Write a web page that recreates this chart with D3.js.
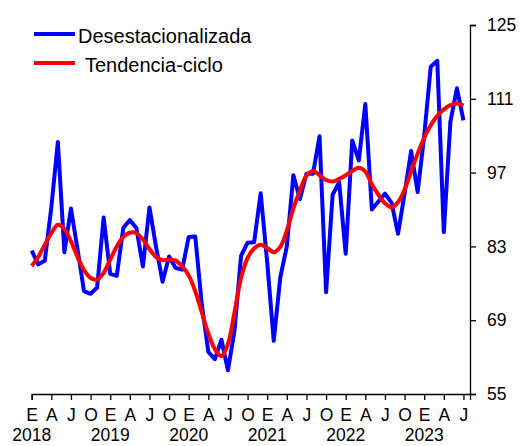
<!DOCTYPE html>
<html>
<head>
<meta charset="utf-8">
<script src="https://cdn.jsdelivr.net/npm/d3@7"></script>
<style>
  body { margin: 0; background: #fff; }
  svg { display: block; font-family: "Liberation Sans", Arial, sans-serif; }
  .axis path, .axis line { stroke: #000; stroke-width: 1.3px; }
  .axis text { fill: #000; font-size: 17.5px; }
</style>
</head>
<body>
<div id="chart"></div>
<script>
// monthly series, Jan 2018 .. Jul 2023
var desestacionalizada = [
    82.2, 79.6, 80.3, 90.4, 102.8, 81.9, 90.2, 82.5, 74.5, 74.0, 75.2, 88.5,
    77.8, 77.4, 86.5, 88.0, 86.5, 79.2, 90.4, 83.0, 76.3, 81.1, 78.9, 78.6,
    84.8, 84.9, 72.0, 63.0, 61.6, 65.3, 59.5, 67.0, 81.2, 83.7, 83.8, 93.1,
    80.0, 65.1, 77.1, 83.0, 96.5, 92.0, 96.8, 96.8, 103.9, 74.3, 92.8, 95.2,
    81.6, 103.1, 99.3, 110.0, 90.0, 91.5, 93.0, 91.3, 85.4, 93.0, 101.1, 93.3,
    104.0, 117.1, 118.2, 85.7, 106.6, 113.0, 106.9
];
var tendencia = [
    79.3, 81.0, 83.3, 85.5, 87.1, 86.3, 84.0, 81.0, 78.5, 77.0, 76.7, 78.0,
    80.5, 83.0, 84.8, 85.6, 85.5, 84.3, 82.5, 81.0, 80.4, 80.5, 80.3, 79.2,
    77.5, 74.5, 70.5, 66.5, 63.5, 62.2, 64.5, 70.5, 77.0, 80.8, 82.6, 83.3,
    82.7, 81.9, 82.9, 86.0, 90.2, 93.6, 96.4, 97.3, 96.5, 95.6, 95.3, 95.8,
    96.5, 97.3, 97.9, 97.2, 94.8, 92.8, 91.2, 90.4, 91.4, 93.8, 97.2, 100.6,
    103.6, 106.0, 107.8, 109.0, 109.8, 110.1, 109.7
];
var monthLabels = ["E", "A", "J", "O"];
var years = ["2018", "2019", "2020", "2021", "2022", "2023"];
var yTicks = [55, 69, 83, 97, 111, 125];

var width = 521, height = 446;

var svg = d3.select('#chart')
    .append('svg')
    .attr('width', width)
    .attr('height', height);

var x = d3.scaleLinear().domain([0, 67]).range([31.7, 470]);
var y = d3.scaleLinear().domain([55, 125]).range([394, 25]);

// x axis: ticks every quarter
var quarterTicks = d3.range(0, desestacionalizada.length, 3);
svg.append('g')
    .attr('class', 'axis')
    .attr('transform', 'translate(0,394)')
    .call(d3.axisBottom(x)
        .tickValues(quarterTicks)
        .tickFormat(function (d) { return monthLabels[(d / 3) % 4]; })
        .tickSizeOuter(0)
        .tickSize(6)
        .tickPadding(9));

// year labels under January
svg.selectAll('.year')
    .data(years)
    .enter()
    .append('text')
    .attr('class', 'year')
    .attr('x', function (d, i) { return x(i * 12); })
    .attr('y', 441)
    .attr('text-anchor', 'middle')
    .style('font-size', '17.5px')
    .text(function (d) { return d; });

// right y axis
svg.append('g')
    .attr('class', 'axis')
    .attr('transform', 'translate(470,0)')
    .call(d3.axisRight(y)
        .tickValues(yTicks)
        .tickSizeOuter(0)
        .tickSize(6)
        .tickPadding(11));

var line = d3.line()
    .x(function (d, i) { return x(i); })
    .y(function (d) { return y(d); });

var smooth = d3.line()
    .x(function (d, i) { return x(i); })
    .y(function (d) { return y(d); })
    .curve(d3.curveCatmullRom.alpha(0.5));

svg.append('path')
    .datum(desestacionalizada)
    .attr('fill', 'none')
    .attr('stroke', '#0000ff')
    .attr('stroke-width', 4)
    .attr('stroke-linejoin', 'round')
    .attr('d', line);

svg.append('path')
    .datum(tendencia)
    .attr('fill', 'none')
    .attr('stroke', '#ff0000')
    .attr('stroke-width', 4)
    .attr('stroke-linejoin', 'round')
    .attr('d', smooth);

// legend
var legendItems = [
    { label: 'Desestacionalizada', color: '#0000ff', y: 34, tx: 78 },
    { label: 'Tendencia-ciclo', color: '#ff0000', y: 63, tx: 85 }
];
var legend = svg.selectAll('.legend')
    .data(legendItems)
    .enter()
    .append('g')
    .attr('class', 'legend');

legend.append('line')
    .attr('x1', 34).attr('x2', 75)
    .attr('y1', function (d) { return d.y; })
    .attr('y2', function (d) { return d.y; })
    .attr('stroke', function (d) { return d.color; })
    .attr('stroke-width', 4);

legend.append('text')
    .attr('x', function (d) { return d.tx; })
    .attr('y', function (d) { return d.y + 8.5; })
    .style('font-size', '20px')
    .text(function (d) { return d.label; });
</script>
</body>
</html>
